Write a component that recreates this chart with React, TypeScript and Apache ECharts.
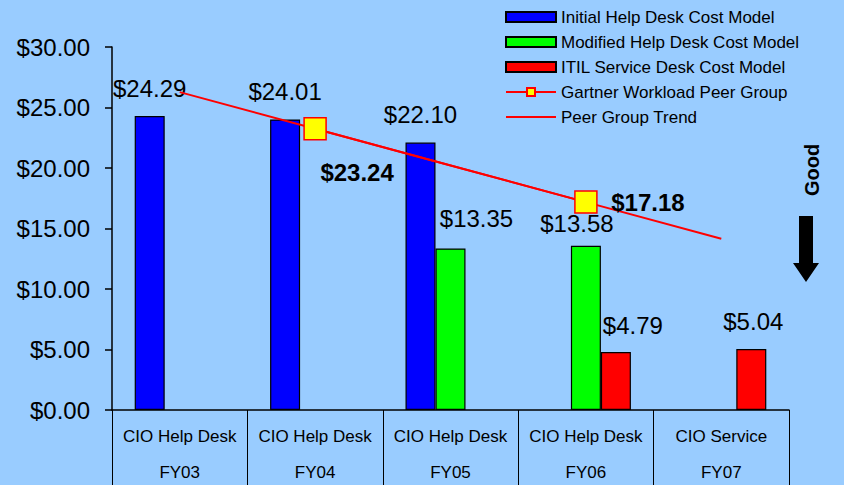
import React, { useEffect, useRef } from "react";
import * as echarts from "echarts";

const fiscalYears = ["FY03", "FY04", "FY05", "FY06", "FY07"];
const deskNames = ["CIO Help Desk", "CIO Help Desk", "CIO Help Desk", "CIO Help Desk", "CIO Service"];
const initialModel: (number | null)[] = [24.29, 24.01, 22.1, null, null];
const modifiedModel: (number | null)[] = [null, null, 13.35, 13.58, null];
const itilModel: (number | null)[] = [null, null, null, 4.79, 5.04];
const gartnerPeer: (number | null)[] = [null, 23.24, null, 17.18, null];
const peerTrend: number[] = [26.27, 23.24, 20.21, 17.18, 14.15];
const yMin = 0;
const yMax = 30;
const yStep = 5;

// label nudges (layout only)
const initialLabelShift: [number, number][] = [[0, 0], [0, 0], [0, 0], [0, 0], [0, 0]];
const modifiedLabelShift: [number, number][] = [[0, 0], [0, 0], [26, -2], [-9, 6], [0, 0]];
const itilLabelShift: [number, number][] = [[0, 0], [0, 0], [0, 0], [17, 1], [2, 0]];
const gartnerLabelShift: [number, number][] = [[0, 0], [42, 44], [0, 0], [62, 0], [0, 0]];

const FONT = "'Liberation Sans', Arial, sans-serif";
const money = (v: number) => "$" + v.toFixed(2);

function barData(vals: (number | null)[], shifts: [number, number][]) {
  return vals.map((v, i) => (v == null ? null : { value: v, label: { offset: shifts[i] } }));
}

export default function App() {
  const ref = useRef<HTMLDivElement>(null);
  useEffect(() => {
    if (!ref.current) return;
    const chart = echarts.init(ref.current, undefined, { renderer: "svg" });
    const barLabel = {
      show: true,
      position: "top",
      distance: 16,
      fontSize: 24,
      fontFamily: FONT,
      color: "#000",
      formatter: (p: any) => money(p.value),
    };
    const barBorder = { borderColor: "#000", borderWidth: 1.2 };
    chart.setOption({
      animation: false,
      backgroundColor: "#99CCFF",
      textStyle: { fontFamily: FONT, color: "#000" },
      grid: { left: 112, right: 55, top: 47, bottom: 75, containLabel: false },
      legend: {
        orient: "vertical",
        left: 505,
        top: 7,
        padding: 0,
        itemWidth: 50,
        itemHeight: 10,
        itemGap: 5,
        textStyle: { fontSize: 17, lineHeight: 20, color: "#000", fontFamily: FONT },
        data: [
          { name: "Initial Help Desk Cost Model", icon: "rect" },
          { name: "Modified Help Desk Cost Model", icon: "rect" },
          { name: "ITIL Service Desk Cost Model", icon: "rect" },
          { name: "Gartner Workload Peer Group" },
          { name: "Peer Group Trend", icon: "path://M0,0 L50,0 L50,2 L0,2 Z" },
        ],
      },
      xAxis: {
        type: "category",
        data: fiscalYears,
        axisLine: { show: true, lineStyle: { color: "#000", width: 1.5 } },
        axisTick: { show: true, length: 78, alignWithLabel: false, lineStyle: { color: "#000", width: 1 } },
        axisLabel: {
          margin: 8,
          interval: 0,
          formatter: (val: string, idx: number) => `{a|${deskNames[idx]}}\n{a|${val}}`,
          rich: { a: { fontSize: 17, lineHeight: 36, color: "#000", fontFamily: FONT } },
        },
        splitLine: { show: false },
      },
      yAxis: {
        type: "value",
        min: yMin,
        max: yMax,
        interval: yStep,
        axisLine: { show: true, lineStyle: { color: "#000", width: 1.5 } },
        axisTick: { show: true, length: 7, lineStyle: { color: "#000", width: 1.5 } },
        axisLabel: { fontSize: 24, margin: 22, color: "#000", fontFamily: FONT, formatter: (v: number) => money(v) },
        splitLine: { show: false },
      },
      series: [
        {
          name: "Initial Help Desk Cost Model",
          type: "bar",
          barWidth: 30,
          barGap: "0%",
          itemStyle: { color: "#0000FF", ...barBorder },
          label: barLabel,
          data: barData(initialModel, initialLabelShift),
        },
        {
          name: "Modified Help Desk Cost Model",
          type: "bar",
          barWidth: 30,
          barGap: "0%",
          itemStyle: { color: "#00FF00", ...barBorder },
          label: barLabel,
          data: barData(modifiedModel, modifiedLabelShift),
        },
        {
          name: "ITIL Service Desk Cost Model",
          type: "bar",
          barWidth: 30,
          barGap: "0%",
          itemStyle: { color: "#FF0000", ...barBorder },
          label: barLabel,
          data: barData(itilModel, itilLabelShift),
        },
        {
          name: "Peer Group Trend",
          type: "line",
          symbol: "none",
          z: 3,
          lineStyle: { color: "#FF0000", width: 2 },
          itemStyle: { color: "#FF0000" },
          data: peerTrend,
        },
        {
          name: "Gartner Workload Peer Group",
          type: "line",
          connectNulls: true,
          symbol: "rect",
          symbolSize: 22,
          z: 4,
          lineStyle: { color: "#FF0000", width: 2 },
          itemStyle: { color: "#FFFF00", borderColor: "#FF0000", borderWidth: 1.5 },
          label: {
            show: true,
            position: "inside",
            fontSize: 24,
            fontWeight: "bold",
            color: "#000",
            fontFamily: FONT,
            formatter: (p: any) => money(p.value),
          },
          data: gartnerPeer.map((v, i) => (v == null ? null : { value: v, label: { offset: gartnerLabelShift[i] } })),
        },
      ],
      graphic: [
        {
          type: "text",
          x: 812,
          y: 170,
          rotation: Math.PI / 2,
          style: {
            text: "Good",
            font: `bold 20px ${FONT}`,
            fill: "#000",
            textAlign: "center",
            textVerticalAlign: "middle",
          },
        },
        {
          type: "polygon",
          shape: {
            points: [
              [799, 216],
              [813, 216],
              [813, 263],
              [819, 263],
              [806, 282],
              [793, 263],
              [799, 263],
            ],
          },
          style: { fill: "#000" },
        },
      ],
    });
    return () => chart.dispose();
  }, []);
  return <div ref={ref} style={{ position: "fixed", left: 0, top: 0, width: 844, height: 485 }} />;
}
